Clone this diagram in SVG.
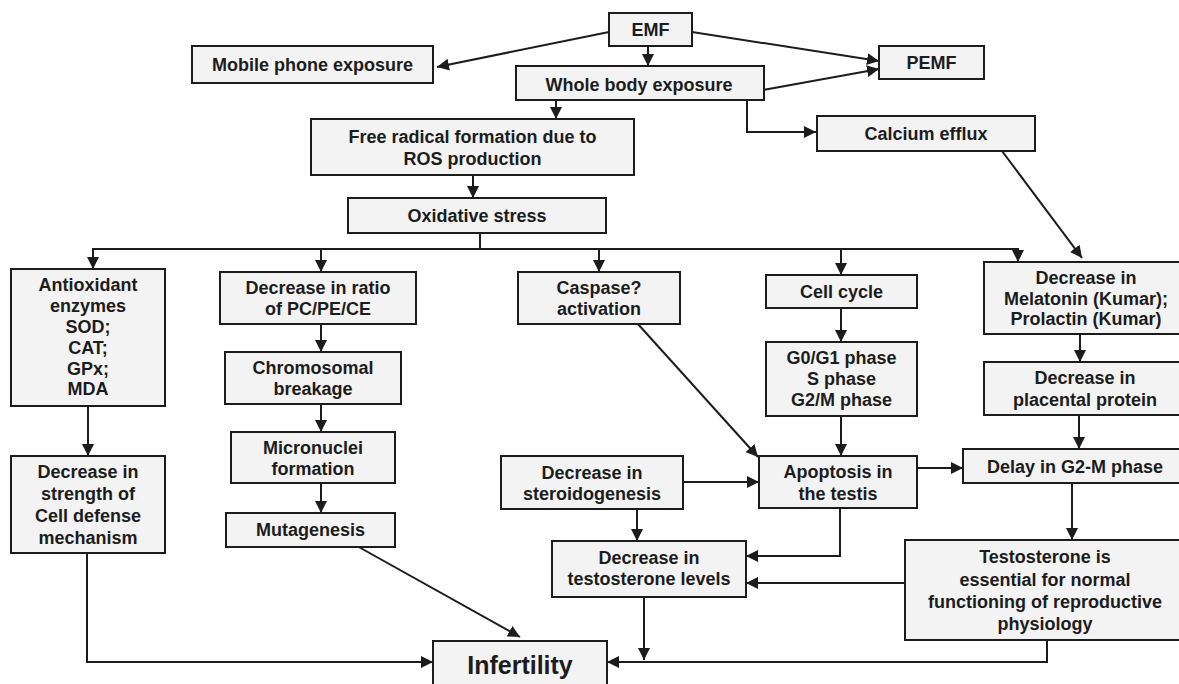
<svg xmlns="http://www.w3.org/2000/svg" width="1179" height="684" viewBox="0 0 1179 684">
<style>
.box{fill:#f3f3f3;stroke:#1c1c1c;stroke-width:2}
.t{font-family:"Liberation Sans",Arial,sans-serif;font-weight:bold;font-size:18px;fill:#1c1c1c;text-anchor:middle}
.big{font-size:25px}
.c{fill:none;stroke:#1c1c1c;stroke-width:2}
</style>
<defs>
<marker id="ah" markerUnits="userSpaceOnUse" markerWidth="14" markerHeight="12" refX="12" refY="6" orient="auto">
<path d="M0,0 L12,6 L0,12 Z" fill="#1c1c1c"/>
</marker>
</defs>
<rect width="1179" height="684" fill="#ffffff"/>
<g id="connectors">
<line class="c" x1="609" y1="32" x2="437" y2="67" marker-end="url(#ah)"/>
<line class="c" x1="648" y1="46" x2="648" y2="66" marker-end="url(#ah)"/>
<line class="c" x1="692" y1="32" x2="879" y2="61" marker-end="url(#ah)"/>
<line class="c" x1="763" y1="90" x2="879" y2="69" marker-end="url(#ah)"/>
<polyline class="c" points="747,100 747,132 816,132" marker-end="url(#ah)"/>
<line class="c" x1="556" y1="100" x2="556" y2="119" marker-end="url(#ah)"/>
<line class="c" x1="473" y1="175" x2="473" y2="198" marker-end="url(#ah)"/>
<line class="c" x1="480" y1="233" x2="480" y2="249"/>
<line class="c" x1="93" y1="249" x2="1019" y2="249"/>
<line class="c" x1="93" y1="248" x2="93" y2="269" marker-end="url(#ah)"/>
<line class="c" x1="321" y1="248" x2="321" y2="272" marker-end="url(#ah)"/>
<line class="c" x1="599" y1="248" x2="599" y2="272" marker-end="url(#ah)"/>
<line class="c" x1="841" y1="248" x2="841" y2="275" marker-end="url(#ah)"/>
<line class="c" x1="1018" y1="248" x2="1018" y2="262" marker-end="url(#ah)"/>
<line class="c" x1="1002" y1="151" x2="1082" y2="258" marker-end="url(#ah)"/>
<line class="c" x1="88" y1="406" x2="88" y2="456" marker-end="url(#ah)"/>
<line class="c" x1="321" y1="324" x2="321" y2="352" marker-end="url(#ah)"/>
<line class="c" x1="321" y1="404" x2="321" y2="432" marker-end="url(#ah)"/>
<line class="c" x1="321" y1="483" x2="321" y2="513" marker-end="url(#ah)"/>
<line class="c" x1="357" y1="546" x2="520" y2="637" marker-end="url(#ah)"/>
<polyline class="c" points="87,553 87,662 433,662" marker-end="url(#ah)"/>
<line class="c" x1="637" y1="323" x2="758" y2="457" marker-end="url(#ah)"/>
<line class="c" x1="841" y1="308" x2="841" y2="342" marker-end="url(#ah)"/>
<line class="c" x1="841" y1="416" x2="841" y2="456" marker-end="url(#ah)"/>
<line class="c" x1="1080" y1="334" x2="1080" y2="362" marker-end="url(#ah)"/>
<line class="c" x1="1079" y1="415" x2="1079" y2="449" marker-end="url(#ah)"/>
<line class="c" x1="917" y1="468" x2="963" y2="468" marker-end="url(#ah)"/>
<line class="c" x1="683" y1="482" x2="759" y2="482" marker-end="url(#ah)"/>
<line class="c" x1="637" y1="509" x2="637" y2="541" marker-end="url(#ah)"/>
<polyline class="c" points="840,508 840,556 746,556" marker-end="url(#ah)"/>
<line class="c" x1="1072" y1="483" x2="1072" y2="540" marker-end="url(#ah)"/>
<line class="c" x1="905" y1="583" x2="746" y2="583" marker-end="url(#ah)"/>
<line class="c" x1="644" y1="597" x2="644" y2="660" marker-end="url(#ah)"/>
<polyline class="c" points="1047,640 1047,662 607,662" marker-end="url(#ah)"/>
</g>
<g id="emf"><rect class="box" x="609" y="13" width="83" height="33"/><text class="t" x="650.5" y="36">EMF</text></g>
<g id="mobile"><rect class="box" x="192" y="46" width="241" height="37"/><text class="t" x="312.5" y="71">Mobile phone exposure</text></g>
<g id="wholebody"><rect class="box" x="516" y="66" width="248" height="34"/><text class="t" x="639" y="91">Whole body exposure</text></g>
<g id="pemf"><rect class="box" x="879" y="46" width="105" height="33"/><text class="t" x="931.5" y="69">PEMF</text></g>
<g id="freeradical"><rect class="box" x="311" y="119" width="323" height="56"/><text class="t" x="472.5" y="143">Free radical formation due to</text><text class="t" x="472.5" y="165">ROS production</text></g>
<g id="calcium"><rect class="box" x="817" y="116" width="218" height="35"/><text class="t" x="926" y="139.5">Calcium efflux</text></g>
<g id="oxidative"><rect class="box" x="348" y="198" width="258" height="35"/><text class="t" x="477" y="222">Oxidative stress</text></g>
<g id="antioxidant"><rect class="box" x="11" y="269" width="154" height="137"/>
<text class="t" x="88" y="291">Antioxidant</text><text class="t" x="88" y="312">enzymes</text><text class="t" x="88" y="333">SOD;</text><text class="t" x="88" y="353.5">CAT;</text><text class="t" x="88" y="374.5">GPx;</text><text class="t" x="88" y="395">MDA</text></g>
<g id="ratio"><rect class="box" x="220" y="272" width="196" height="52"/><text class="t" x="318" y="293.5">Decrease in ratio</text><text class="t" x="318" y="315">of PC/PE/CE</text></g>
<g id="chromosomal"><rect class="box" x="225" y="352" width="176" height="52"/><text class="t" x="313" y="374">Chromosomal</text><text class="t" x="313" y="395">breakage</text></g>
<g id="micronuclei"><rect class="box" x="231" y="432" width="164" height="51"/><text class="t" x="313" y="454">Micronuclei</text><text class="t" x="313" y="475">formation</text></g>
<g id="mutagenesis"><rect class="box" x="226" y="513" width="169" height="34"/><text class="t" x="310.5" y="535.5">Mutagenesis</text></g>
<g id="strength"><rect class="box" x="11" y="456" width="154" height="97"/>
<text class="t" x="88" y="478">Decrease in</text><text class="t" x="88" y="500">strength of</text><text class="t" x="88" y="522">Cell defense</text><text class="t" x="88" y="544">mechanism</text></g>
<g id="caspase"><rect class="box" x="518" y="272" width="162" height="52"/><text class="t" x="599" y="293.5">Caspase?</text><text class="t" x="599" y="314.5">activation</text></g>
<g id="cellcycle"><rect class="box" x="766" y="275" width="151" height="33"/><text class="t" x="841.5" y="298">Cell cycle</text></g>
<g id="phases"><rect class="box" x="766" y="342" width="151" height="74"/><text class="t" x="841.5" y="363.5">G0/G1 phase</text><text class="t" x="841.5" y="384.5">S phase</text><text class="t" x="841.5" y="405.5">G2/M phase</text></g>
<g id="melatonin"><rect class="box" x="984" y="262" width="197" height="72"/><text class="t" x="1086" y="283.5">Decrease in</text><text class="t" x="1086" y="304.5">Melatonin (Kumar);</text><text class="t" x="1086" y="325">Prolactin (Kumar)</text></g>
<g id="placental"><rect class="box" x="984" y="362" width="197" height="53"/><text class="t" x="1085" y="383.5">Decrease in</text><text class="t" x="1085" y="406">placental protein</text></g>
<g id="apoptosis"><rect class="box" x="759" y="456" width="158" height="52"/><text class="t" x="838" y="477.5">Apoptosis in</text><text class="t" x="838" y="499.5">the testis</text></g>
<g id="delay"><rect class="box" x="963" y="449" width="218" height="34"/><text class="t" x="1075" y="473">Delay in G2-M phase</text></g>
<g id="steroidogenesis"><rect class="box" x="501" y="456" width="182" height="53"/><text class="t" x="592" y="478.5">Decrease in</text><text class="t" x="592" y="500">steroidogenesis</text></g>
<g id="testosteronelevels"><rect class="box" x="552" y="541" width="194" height="56"/><text class="t" x="649" y="563.5">Decrease in</text><text class="t" x="649" y="585">testosterone levels</text></g>
<g id="essential"><rect class="box" x="905" y="540" width="276" height="100"/>
<text class="t" x="1045" y="563">Testosterone is</text><text class="t" x="1045" y="585.5">essential for normal</text><text class="t" x="1045" y="608">functioning of reproductive</text><text class="t" x="1045" y="630">physiology</text></g>
<g id="infertility"><rect class="box" x="433" y="641" width="174" height="50"/><text class="t big" x="520" y="674">Infertility</text></g>
</svg>
